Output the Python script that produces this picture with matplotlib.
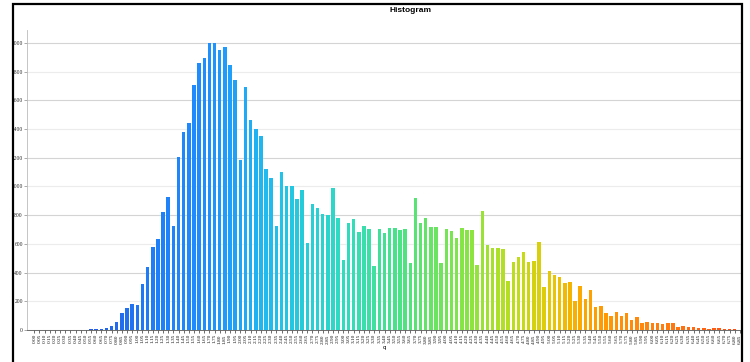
import numpy as np
import matplotlib
matplotlib.use('Agg')
import matplotlib.pyplot as plt
from matplotlib.colors import LinearSegmentedColormap
from matplotlib.patches import Rectangle

# bin labels (lower edge of each bin)
bin_start = 0.0
bin_step = 0.05
n_bins = 138

# counts per bin
counts = [
    0, 0, 0, 0, 0, 0, 0, 0, 0, 0,
    0, 5, 7, 6, 16, 28, 58, 116, 151, 181,
    174, 318, 437, 576, 632, 825, 925, 727, 1203, 1378,
    1440, 1707, 1863, 1893, 1998, 1998, 1951, 1970, 1847, 1742,
    1185, 1690, 1460, 1400, 1350, 1120, 1060, 725, 1100, 1003,
    1003, 913, 976, 609, 878, 848, 806, 801, 987, 778,
    488, 748, 771, 685, 725, 702, 446, 702, 674, 709,
    709, 697, 702, 465, 918, 748, 778, 720, 716, 465,
    702, 692, 639, 709, 697, 697, 453, 832, 592, 569,
    569, 562, 344, 476, 506, 546, 476, 483, 616, 297,
    413, 383, 367, 325, 332, 202, 307, 214, 279, 163,
    170, 121, 98, 123, 100, 116, 70, 93, 46, 58,
    46, 51, 40, 46, 46, 23, 28, 19, 19, 16,
    12, 7, 14, 14, 7, 7, 5, 2,
]

y_ticks = [0, 200, 400, 600, 800, 1000, 1200, 1400, 1600, 1800, 2000]

labels = ['%.2f' % (bin_start + bin_step * i) for i in range(n_bins)]

# blue -> green -> orange ramp along the bins
ramp = LinearSegmentedColormap.from_list('ramp', [
    (0.00, '#2c3ed6'),
    (0.16, '#1f7cf5'),
    (0.25, '#1e90ff'),
    (0.34, '#20c0ec'),
    (0.44, '#30dcc0'),
    (0.53, '#4fe47c'),
    (0.62, '#8ee43e'),
    (0.69, '#c4dc18'),
    (0.74, '#ecc404'),
    (0.79, '#ffa000'),
    (0.90, '#ff7a10'),
    (1.00, '#ff4c14'),
])

x = np.arange(n_bins)
colors = [ramp(i / (n_bins - 1)) for i in x]

fig = plt.figure(figsize=(7.5, 3.62), dpi=100)
ax = fig.add_axes([0.036, 0.0884, 0.9539, 0.8287])

# alternating light gridlines
for v in y_ticks:
    c = '#d4d4d4' if (v // 200) % 2 == 0 else '#ececec'
    ax.axhline(v, color=c, lw=0.8, zorder=0)

ax.bar(x, counts, width=0.68, color=colors, zorder=2)

ax.set_xlim(-1.42, 137.5)
ax.set_ylim(0, 2090)

ax.set_yticks(y_ticks)
ax.set_yticklabels([str(v) for v in y_ticks], fontsize=4, family='Liberation Serif',
                   color='#222222')
ax.set_xticks(x)
ax.set_xticklabels(labels, rotation=90, fontsize=3.8, family='Liberation Serif',
                   color='#111111')
ax.tick_params(axis='x', length=2, width=0.5, pad=1, color='#333333')
ax.tick_params(axis='y', length=2, width=0.5, pad=1, color='#888888')

for s in ['top', 'right']:
    ax.spines[s].set_visible(False)
ax.spines['left'].set_color('#bbbbbb')
ax.spines['left'].set_linewidth(0.6)
ax.spines['bottom'].set_color('#555555')
ax.spines['bottom'].set_linewidth(0.6)

ax.set_xlabel('q', fontsize=4, labelpad=1)
fig.text(0.547, 0.982, 'Histogram', ha='center', va='top', fontsize=6,
         family='Liberation Sans', weight='bold')

# black frame round the chart
fig.patches.append(Rectangle((13 / 750, -0.02), (742 - 13) / 750, (358 / 362) + 0.02,
                             transform=fig.transFigure, fill=False,
                             edgecolor='black', lw=1.6))

fig.savefig('out.png', dpi=100)
